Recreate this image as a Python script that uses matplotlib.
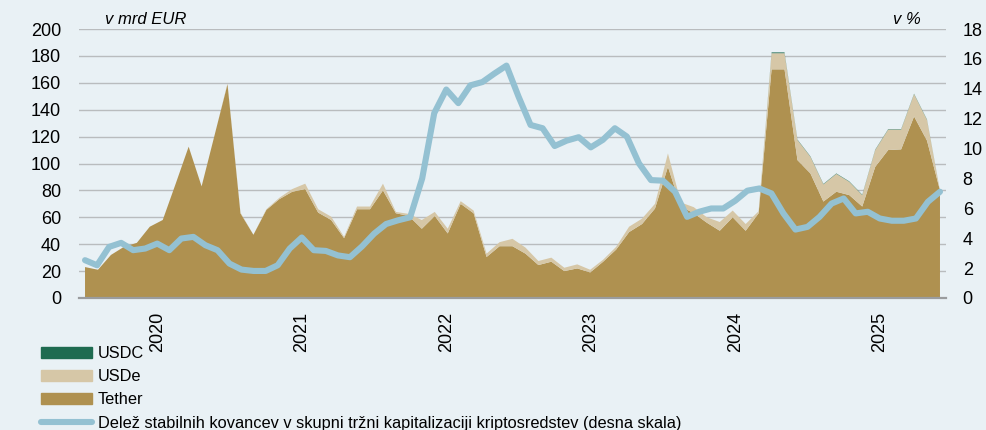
import numpy as np
import matplotlib.pyplot as plt
from matplotlib.patches import Patch
from matplotlib.lines import Line2D

plt.rcParams['font.family'] = ['Liberation Sans Narrow', 'Liberation Sans', 'DejaVu Sans']

# letne oznake na mesecni osi deleza (januar)
years = ['2020', '2021', '2022', '2023', '2024', '2025']
year_pos = [6, 18, 30, 42, 54, 66]

# v mrd EUR (svoja kategorijska os, 67 tock)
tether = [23, 21, 32, 38, 41, 53, 58, 85, 112.5, 83,
          121, 159, 63, 47, 65.5, 73.5, 79, 81, 63.5, 58,
          44.5, 66, 66, 80, 63, 61, 51.5, 61, 48, 70,
          63, 30.5, 38.5, 38.5, 33, 24.5, 27, 20, 22, 19,
          27, 36, 49, 55, 66.5, 97.5, 68, 63, 56, 50,
          60, 50, 63, 170, 170, 102.5, 92.6, 71.7, 79, 76.5,
          68, 97.5, 110, 110.5, 135, 117, 80]
usde = [0, 0, 0, 0, 0, 0, 0, 0, 0, 0,
        0, 0.5, 0.5, 0, 0.5, 1, 2, 4, 2.5, 2.5,
        1, 2, 2, 5, 1, 1.5, 6.5, 3, 3.5, 2,
        2, 2.5, 3, 5.5, 4.5, 3, 3, 2.5, 3, 2,
        1.5, 2, 4, 4, 3.5, 10, 3, 4.5, 4, 6.5,
        5, 5, 1.5, 12, 12, 15, 12.4, 12.8, 13.3, 9.9,
        8.5, 12.5, 15.2, 14.7, 16.6, 15.4, 0]
usdc = [0] * 53 + [0.6, 0.6] + [0.3] * 11 + [0]

# delez stabilnih kovancev, v % (mesecno, 72 tock)
share = [2.53, 2.19, 3.42, 3.69, 3.20, 3.31, 3.64, 3.20, 3.98, 4.09,
         3.53, 3.20, 2.30, 1.90, 1.81, 1.81, 2.19, 3.31, 4.05, 3.20,
         3.15, 2.85, 2.73, 3.45, 4.30, 4.95, 5.20, 5.40, 8.00, 12.37,
         13.95, 13.04, 14.23, 14.45, 15.02, 15.55, 13.48, 11.58, 11.36, 10.17,
         10.53, 10.76, 10.08, 10.58, 11.36, 10.80, 9.01, 7.89, 7.85, 7.11,
         5.43, 5.77, 5.99, 5.99, 6.51, 7.18, 7.33, 7.00, 5.66, 4.58,
         4.76, 5.43, 6.32, 6.66, 5.66, 5.77, 5.32, 5.17, 5.17, 5.32,
         6.44, 7.11]

bg = '#E9F1F5'
c_tether = '#AF9150'
c_usde = '#D6C7A7'
c_usdc = '#1E6B50'
c_line = '#94C1D2'

fig = plt.figure(figsize=(9.87, 4.30), dpi=100, facecolor=bg)
rect = [79 / 987, 132 / 430, 867 / 987, 269 / 430]

ax = fig.add_axes(rect)
ax.set_facecolor(bg)
xa = np.arange(len(tether))
ax.stackplot(xa, tether, usde, usdc, colors=[c_tether, c_usde, c_usdc], linewidth=0)
pad = 0.5 * (len(tether) - 1) / (len(share) - 1)
ax.set_xlim(-pad, len(tether) - 1 + pad)
ax.set_ylim(0, 200)
ax.set_yticks(range(0, 201, 20))
ax.set_xticks([])
ax.yaxis.grid(True, color='#B9BCBE', lw=1.0)
ax.set_axisbelow(True)
for s in ['top', 'left', 'right']:
    ax.spines[s].set_visible(False)
ax.spines['bottom'].set_color('#9A9C9E')
ax.spines['bottom'].set_linewidth(1.6)
ax.tick_params(axis='y', length=0, pad=13, labelsize=13)

ax2 = fig.add_axes(rect)
ax2.patch.set_visible(False)
ax2.plot(np.arange(len(share)), share, color=c_line, lw=4.4,
         solid_capstyle='round', solid_joinstyle='round')
ax2.set_xlim(-0.5, len(share) - 0.5)
ax2.set_ylim(0, 18)
ax2.yaxis.tick_right()
ax2.set_yticks(range(0, 19, 2))
ax2.set_xticks(year_pos)
ax2.set_xticklabels(years, rotation=90, va='top')
for s in ax2.spines.values():
    s.set_visible(False)
ax2.tick_params(axis='y', length=0, pad=12, labelsize=13)
ax2.tick_params(axis='x', length=0, pad=10, labelsize=13)

fig.text(105 / 987, 1 - 20 / 430, 'v mrd EUR', style='italic', fontsize=12, va='center')
fig.text(893 / 987, 1 - 20 / 430, 'v %', style='italic', fontsize=12, va='center')

handles = [Patch(color=c_usdc), Patch(color=c_usde), Patch(color=c_tether),
           Line2D([], [], color=c_line, lw=4.4, solid_capstyle='round')]
labels = ['USDC', 'USDe', 'Tether',
          'Delež stabilnih kovancev v skupni tržni kapitalizaciji kriptosredstev (desna skala)']
fig.legend(handles, labels, loc='upper left', bbox_to_anchor=(41 / 987, 1 - 346 / 430),
           frameon=False, fontsize=11.8, handlelength=3.1, handletextpad=0.37,
           labelspacing=0.5, borderpad=0, borderaxespad=0)

fig.savefig('out.png', dpi=100, facecolor=bg)
